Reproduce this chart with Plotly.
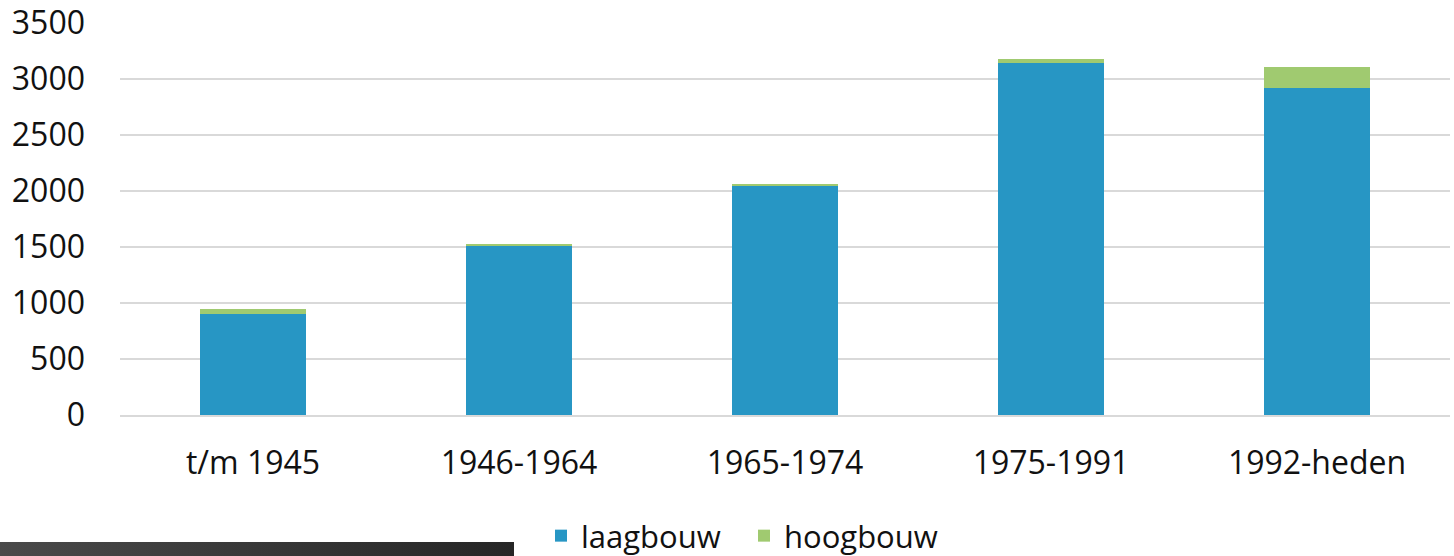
import base64
import plotly.graph_objects as go

categories = ["t/m 1945", "1946-1964", "1965-1974", "1975-1991", "1992-heden"]
laagbouw = [905, 1515, 2042, 3140, 2922]
hoogbouw = [40, 15, 20, 40, 182]
series_names = ["laagbouw", "hoogbouw"]
y_ticks = [0, 500, 1000, 1500, 2000, 2500, 3000, 3500]

BLUE = "#2796C4"
GREEN = "#A0CA70"
FONT = "Open Sans"
FS = 32

fig = go.Figure()
fig.add_trace(go.Bar(x=categories, y=laagbouw, name=series_names[0],
                     marker=dict(color=BLUE, line=dict(width=0)), width=0.4))
fig.add_trace(go.Bar(x=categories, y=hoogbouw, name=series_names[1],
                     marker=dict(color=GREEN, line=dict(width=0)), width=0.4))

W, H = 1454, 556
L, R, T, B = 120, 4, 23, 141
PW, PH = W - L - R, H - T - B

# decorative dark gradient strip at bottom-left (page artefact in reference)
svg = ('<svg xmlns="http://www.w3.org/2000/svg" width="514" height="14" preserveAspectRatio="none">'
       '<defs><linearGradient id="g" x1="0" x2="1" y1="0" y2="0">'
       '<stop offset="0" stop-color="#4a4a4a"/><stop offset="1" stop-color="#262626"/>'
       '</linearGradient></defs><rect width="514" height="14" fill="url(#g)"/></svg>')
src = "data:image/svg+xml;base64," + base64.b64encode(svg.encode()).decode()

fig.update_layout(
    barmode="stack",
    width=W, height=H,
    margin=dict(l=L, r=R, t=T, b=B, pad=0, autoexpand=False),
    paper_bgcolor="white", plot_bgcolor="white",
    font=dict(family=FONT, size=FS, color="#111111"),
    showlegend=True,
    legend=dict(orientation="h", x=(541 - L) / PW, xanchor="left",
                y=(415 - 536) / PH, yanchor="middle", font=dict(size=FS - 1, family=FONT),
                entrywidth=158, entrywidthmode="pixels",
                itemclick=False, bgcolor="rgba(0,0,0,0)", traceorder="normal"),
    images=[dict(source=src, xref="paper", yref="paper",
                 x=-L / PW, y=(415 - 542) / PH, sizex=514 / PW, sizey=14 / PH,
                 xanchor="left", yanchor="top", sizing="stretch", layer="above")],
    bargap=0.6,
)
fig.update_yaxes(range=[0, 3500], tickvals=y_ticks, showgrid=True, gridcolor="#D9D9D9",
                 gridwidth=2, zeroline=False, showline=False, ticks="",
                 ticklabelstandoff=34, fixedrange=True, automargin=False)
fig.update_xaxes(showgrid=False, showline=True, linecolor="#D9D9D9", linewidth=2,
                 ticks="", ticklabelstandoff=19, fixedrange=True, automargin=False)

fig.write_html("out.html", config={"displayModeBar": False},
               post_script="document.body.style.margin='0';document.body.style.overflow='hidden';")
